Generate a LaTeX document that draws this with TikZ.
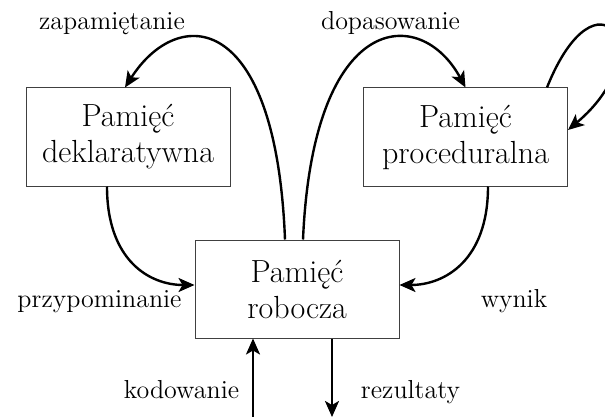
\documentclass[tikz,border=0pt]{standalone}
\usetikzlibrary{arrows.meta}

\begin{document}
\begin{tikzpicture}[x=0.5pt, y=-0.5pt,
    box/.style = {draw=black!75, line width=0.5pt, minimum width=102pt, minimum height=49pt,
                  align=center, inner sep=0pt, font=\fontsize{16pt}{18pt}\selectfont},
    lbl/.style = {anchor=base, inner sep=0pt, font=\fontsize{13pt}{15pt}\selectfont},
    arr/.style = {line width=1.2pt, -{Stealth[length=8pt, width=7pt, inset=2pt]}},
    node distance=76pt]
    \useasboundingbox (0,0) rectangle (605,417);

    \node[box] (rob) at (297,289) {Pamięć\\robocza};
    \node[box] (dek) [above of=rob, xshift=-84.5pt] {Pamięć\\deklaratywna};
    \node[box] (pro) [above of=rob, xshift=84.25pt] {Pamięć\\proceduralna};

    \node[lbl] (zap) at (112,29.3) {zapamiętanie};
    \node[lbl] (dop) at (390.5,29.3) {dopasowanie};
    \node[lbl] (prz) at (99.5,307) {przypominanie};
    \node[lbl] (wyn) at (514,307) {wynik};
    \node[lbl] (kod) at (181.5,398) {kodowanie};
    \node[lbl] (rez) at (410.5,398) {rezultaty};

    \coordinate (kin) at (253,417);
    \coordinate (rout) at (332,417);

    \draw[arr] ([xshift=-6pt]rob.north) .. controls +(-9,-230) and +(53,-83) .. ([xshift=-1.5pt]dek.north);
    \draw[arr] ([xshift=3pt]rob.north) .. controls +(10,-230) and +(-45,-83) .. (pro.north);
    \draw[arr] ([xshift=-10.5pt]pro.north east) .. controls +(50,-125) and +(95,-80) .. ([yshift=3.5pt]pro.east);
    \draw[arr] ([xshift=-10.5pt]dek.south) .. controls +(0,74) and +(-45,0) .. ([yshift=2pt]rob.west);
    \draw[arr] ([xshift=11.25pt]pro.south) .. controls +(0,74) and +(45,0) .. ([yshift=2pt]rob.east);
    \draw[arr] (kin) -- (kin |- rob.south);
    \draw[arr] (rout |- rob.south) -- (rout);
\end{tikzpicture}
\end{document}
